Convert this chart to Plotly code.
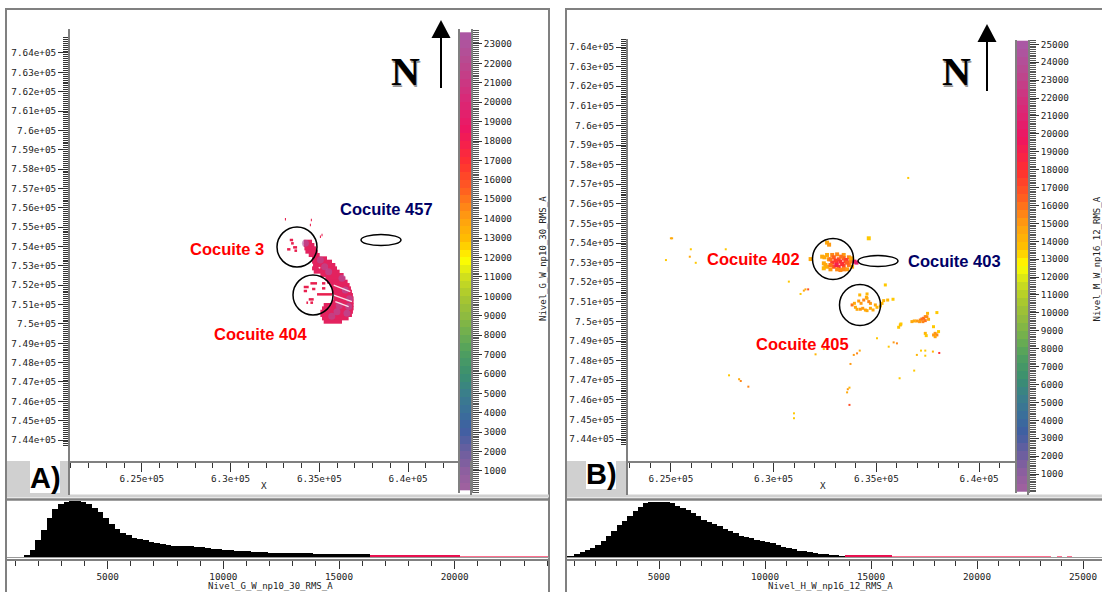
import plotly.graph_objects as go

W, H = 1102, 592
TICK_FONT = dict(family="DejaVu Sans Mono", size=9.3, color="#222222")
GREY = "#808080"

# ---------- tick labels ----------
north_ticks = [744000 + 1000 * i for i in range(21)]
north_labels = ["7.44e+05", "7.45e+05", "7.46e+05", "7.47e+05", "7.48e+05", "7.49e+05", "7.5e+05",
                "7.51e+05", "7.52e+05", "7.53e+05", "7.54e+05", "7.55e+05", "7.56e+05", "7.57e+05",
                "7.58e+05", "7.59e+05", "7.6e+05", "7.61e+05", "7.62e+05", "7.63e+05", "7.64e+05"]
east_ticks = [625000, 630000, 635000, 640000]
east_labels = ["6.25e+05", "6.3e+05", "6.35e+05", "6.4e+05"]

# ---------- panel A map: RMS body as row spans (north, west, east) ----------
a_row_north = [754249, 754077, 753905, 753733, 753560, 753388, 753216, 753043, 752871, 752699, 752526,
               752354, 752182, 752009, 751837, 751665, 751492, 751320, 751148, 750976, 750803, 750631,
               750459, 750286, 750114]
a_row_west = [634120, 634120, 634157, 634214, 634401, 634588, 634588, 634644, 634588, 634682, 635057,
              635337, 635431, 635618, 635712, 635712, 635806, 635806, 635712, 635244, 635150, 635057,
              635057, 635150, 635244]
a_row_east = [634588, 634719, 634832, 634907, 635019, 635431, 635712, 635899, 635993, 636143, 636368,
              636461, 636592, 636705, 636780, 636836, 636892, 636930, 636930, 636930, 636930, 636892,
              636836, 636649, 636274]
# small isolated patches
a_dash_north = [752096, 751906, 751803, 752096, 751700, 751837, 751527, 751268, 751096, 751096,
                754336, 754163, 753853, 753956, 753784, 755404, 755369, 755111, 754594, 754508]
a_dash_west = [634495, 634120, 634590, 635150, 634120, 635150, 634869, 634401, 634495, 634270,
               633333, 633408, 633184, 633521, 633596, 633060, 634520, 634465, 635120, 635030]
a_dash_east = [634870, 634400, 634775, 635337, 634307, 635337, 635712, 634682, 634644, 634364,
               633521, 633558, 633371, 633745, 633745, 633120, 634580, 634525, 635180, 635090]
# higher RMS patches inside the body
a_high_east = [634214, 635057, 635525, 636274, 636461, 636555, 635993, 636120, 636700, 635300, 636650, 635700]
a_high_north = [754163, 753302, 752699, 752354, 751751, 750545, 750631, 750950, 751300, 752950, 750900, 750400]
a_high_rms = [23500, 23000, 23500, 23500, 23700, 23700, 23500, 23000, 23500, 23000, 23500, 23000]
# no-data stripes across the body
a_gap_east = [[635806, 636742], [635806, 636836], [635899, 636649], [634963, 635050]]
a_gap_north = [[752009, 751665], [751492, 751148], [751148, 750890], [752922, 752880]]

# ---------- panel B map ----------
b402_east = [632600, 632850, 633090, 633410, 632475, 632690, 632930, 633170, 633410, 633660, 632850,
             633060, 633250, 633490, 633740, 632930, 633170, 633410, 633660, 633250, 633580, 632520,
             632440, 632600, 633930, 634030, 631800, 632600, 632700, 634630,
             632766, 633009, 633284, 633543, 632766, 633058, 633333, 633575, 633090, 633413, 633769,
             632361, 632766, 633818, 632443]
b402_north = [753390, 753390, 753420, 753390, 753270, 753170, 753270, 753170, 753220, 753270, 753000,
              753000, 753050, 753050, 753050, 752790, 752790, 752830, 752880, 752620, 752660, 752880,
              752710, 752790, 753050, 753000, 753180, 754020, 753915, 754240,
              753167, 753099, 753303, 753133, 752878, 752878, 752929, 752997, 752657, 752657, 753218,
              753303, 752657, 752793, 752963]
b402_rms = [14500, 15500, 15500, 15000, 14500, 15000, 16500, 17000, 16500, 15500, 17500,
            18500, 18000, 17000, 15500, 17000, 18000, 17000, 16000, 15500, 15000, 14500,
            14000, 14500, 20000, 20500, 14500, 14500, 15000, 13500,
            16000, 17500, 16000, 17500, 16000, 19000, 18000, 16500, 15500, 15500, 14500,
            14500, 15000, 14500, 14500]

b405_east = [633820, 634140, 634385, 634545, 634190, 634545, 634710, 634950, 634220, 634465, 634710,
             635030, 633980, 634630, 635355, 635550, 635810, 635275, 635435,
             634061, 634336, 634546, 634837, 635193, 633931, 634255, 634514]
b405_north = [750840, 751040, 751090, 751180, 751350, 751400, 750920, 750840, 750620, 750580, 750670,
              750720, 750720, 751010, 751060, 751090, 751130, 750920, 751860,
              750617, 750668, 750549, 750583, 750787, 750923, 750923, 751229]
b405_rms = [16000, 15000, 15500, 14500, 14000, 14000, 15000, 14500, 15000, 14500, 14500,
            14000, 14500, 15500, 14000, 14000, 13500, 14000, 13500,
            14500, 15000, 14500, 14500, 14000, 14500, 15000, 14500]

b_east_cluster_east = [637135, 637300, 637460, 637380, 636730, 636970, 637490, 636165, 636085, 637860,
                       637945, 637380, 637780, 638025, 637860, 637945,
                       637216, 637378, 637264, 636844, 637539, 637102, 636196, 637426, 637782]
b_east_cluster_north = [750070, 750160, 750240, 750040, 749990, 750020, 750410, 749820, 749700, 749390,
                        749310, 749390, 749730, 749480, 749220, 750450,
                        750124, 750243, 749988, 750022, 750107, 749988, 749869, 749274, 749308]
b_east_cluster_rms = [15500, 16500, 15500, 16000, 14500, 15000, 14000, 14000, 13500, 15000,
                      15500, 14000, 13500, 13500, 14500, 13500,
                      16000, 15500, 15500, 14500, 14500, 15000, 13500, 13500, 15000]

b_other_east = [625000, 625060, 625970, 625920, 624760, 626210, 627670, 630740, 631550, 631680, 631470,
                631310, 635030, 635840, 636000, 635600, 634060, 633900, 634190, 633740, 632440, 632040,
                636970, 637170, 637380, 637750, 637380, 638060, 628400, 628320, 628770, 627830, 633610,
                633575, 633690, 633690, 630990, 630990, 636840, 636130, 636550]
b_other_north = [754240, 754240, 753680, 753300, 753130, 752990, 753680, 752030, 751635, 751635, 751570,
                 751400, 749140, 748930, 748880, 748710, 748370, 748290, 748510, 747830, 748590, 748320,
                 748290, 748510, 748510, 748460, 748250, 748390, 746960, 747050, 746670, 747250, 746540,
                 746380, 746620, 745740, 745310, 745060, 747490, 747100, 757320]
b_other_rms = [14500, 14500, 13500, 14500, 13500, 13500, 13500, 13500, 14500, 17000, 14500,
               13500, 13500, 15000, 15500, 13500, 15500, 15000, 14500, 15000, 14000, 14000,
               14000, 13500, 13500, 14000, 13500, 18000, 15500, 14500, 15500, 13500, 15000,
               14500, 14000, 17000, 13500, 13500, 13500, 13500, 13500]

# ---------- histograms ----------
hist_a_bin0, hist_a_width = 1504, 245
hist_a_main = [5, 20, 50, 82, 117, 143, 160, 166, 169, 167, 164, 158, 147, 135, 117, 100, 83, 73, 65, 57,
               54, 50, 46, 42, 40, 37, 34, 34, 34, 33, 30, 29, 27, 25, 23, 22, 20, 18, 17, 17, 16, 15, 14,
               13, 12, 12, 12, 12, 11, 11, 11, 9, 9, 9, 9, 9, 9, 9, 9, 9, 9]
hist_a_tail_high = [6] * 16
hist_a_tail_low = [3] * 16

hist_b_bin0, hist_b_width = 625, 250
hist_b_main = [3, 3, 10, 15, 21, 27, 36, 49, 64, 79, 95, 107, 124, 139, 151, 161, 166, 166, 166, 164, 162,
               154, 147, 141, 131, 124, 111, 104, 100, 92, 85, 77, 71, 63, 61, 56, 50, 47, 44, 41, 36, 29,
               26, 23, 19, 17, 15, 13, 10, 8, 6, 5, 3]
hist_b_tail_high = [6] * 9
hist_b_tail_low = [3, 3, 3, 3, 3, 3, 3, 3, 3, 3, 3, 3, 3, 3, 3, 3, 3, 3, 3, 3, 3, 3, 3, 3, 3, 3, 3, 3, 3, 3,
                   0, 3, 0, 3, 0, 0, 0, 0, 0, 0, 0, 3]

# ---------- colour ramps ----------
ramp_a_max, ramp_b_max = 23770, 25240
ramp_a_levels = list(range(200, 23800, 400))
ramp_b_levels = list(range(225, 25300, 450))
ramp_a_ticks = list(range(1000, 24000, 1000))
ramp_b_ticks = list(range(1000, 26000, 1000))
COLORSCALE = [[0, "#a2619f"], [.04, "#8f5f9f"], [.085, "#6a5f9f"], [.13, "#3f5fa2"], [.17, "#3a6f9a"],
              [.21, "#3a7f8a"], [.25, "#3a8f70"], [.30, "#4f9f5f"], [.34, "#6faf4f"], [.38, "#8fba3f"],
              [.42, "#aac82f"], [.46, "#ccdd1f"], [.50, "#ffff00"], [.54, "#ffc000"], [.59, "#ff9f10"],
              [.65, "#ff6020"], [.71, "#ff3030"], [.78, "#ee1560"], [.85, "#d82a78"], [.93, "#b84a90"],
              [1, "#a85aa8"]]


def px(x):
    return x / W


def py(y):
    return 1 - y / H


def spans(north, west, east):
    xs, ys = [], []
    for n, w, e in zip(north, west, east):
        xs += [w, e, None]
        ys += [n, n, None]
    return xs, ys


fig = go.Figure()

# panel A map
x, y = spans(a_row_north, a_row_west, a_row_east)
fig.add_trace(go.Scatter(x=x, y=y, mode="lines", line=dict(color="#e3225f", width=4), xaxis="x", yaxis="y"))
x, y = spans(a_dash_north, a_dash_west, a_dash_east)
fig.add_trace(go.Scatter(x=x, y=y, mode="lines", line=dict(color="#e8204f", width=2.5), xaxis="x", yaxis="y"))
fig.add_trace(go.Scatter(x=a_high_east, y=a_high_north, mode="markers", xaxis="x", yaxis="y",
                         marker=dict(size=7, color=a_high_rms, cmin=0, cmax=ramp_a_max, colorscale=COLORSCALE,
                                     opacity=0.55)))
for ge, gn in zip(a_gap_east, a_gap_north):
    fig.add_trace(go.Scatter(x=ge, y=gn, mode="lines", line=dict(color="rgba(255,255,255,0.85)", width=1.3),
                             xaxis="x", yaxis="y"))

# panel B map
for e, n, v, s in [(b402_east, b402_north, b402_rms, 4), (b405_east, b405_north, b405_rms, 3),
                   (b_east_cluster_east, b_east_cluster_north, b_east_cluster_rms, 3),
                   (b_other_east, b_other_north, b_other_rms, 2)]:
    fig.add_trace(go.Scatter(x=e, y=n, mode="markers", xaxis="x2", yaxis="y2",
                             marker=dict(size=s, symbol="square", color=v, cmin=0, cmax=ramp_b_max,
                                         colorscale=COLORSCALE, line=dict(width=0))))

# histograms
off = 0
for vals, col in [(hist_a_main, "#000000"), (hist_a_tail_high, "#e8104f"), (hist_a_tail_low, "#ff6f8f")]:
    fig.add_trace(go.Bar(x=[hist_a_bin0 + (off + i) * hist_a_width for i in range(len(vals))], y=vals,
                         width=hist_a_width, marker=dict(color=col, line=dict(width=0)), xaxis="x3", yaxis="y3"))
    off += len(vals)
off = 0
for vals, col in [(hist_b_main, "#000000"), (hist_b_tail_high, "#e8104f"), (hist_b_tail_low, "#ff6f8f")]:
    fig.add_trace(go.Bar(x=[hist_b_bin0 + (off + i) * hist_b_width for i in range(len(vals))], y=vals,
                         width=hist_b_width, marker=dict(color=col, line=dict(width=0)), xaxis="x4", yaxis="y4"))
    off += len(vals)

# colour ramps
fig.add_trace(go.Heatmap(z=[[v] for v in ramp_a_levels], x=[0], y=ramp_a_levels, zmin=0, zmax=ramp_a_max,
                         colorscale=COLORSCALE, showscale=False, xaxis="x5", yaxis="y5"))
fig.add_trace(go.Heatmap(z=[[v] for v in ramp_b_levels], x=[0], y=ramp_b_levels, zmin=0, zmax=ramp_b_max,
                         colorscale=COLORSCALE, showscale=False, xaxis="x6", yaxis="y6"))


def north_axis(x_name, domain, rng):
    return dict(anchor=x_name, domain=domain, range=rng, tickmode="array", tickvals=north_ticks,
                ticktext=north_labels, ticks="outside", ticklen=10, tickwidth=1, tickcolor="#333333",
                tickfont=TICK_FONT, showline=True, linecolor=GREY, linewidth=2, showgrid=False, zeroline=False,
                minor=dict(tickvals=[743700 + 100 * i for i in range(212)], ticks="outside", ticklen=5,
                           tickwidth=1, tickcolor="#333333", showgrid=False))


def east_axis(y_name, domain, rng):
    return dict(anchor=y_name, domain=domain, range=rng, tickmode="array", tickvals=east_ticks,
                ticktext=east_labels, ticks="outside", ticklen=9, tickwidth=1, tickcolor="#333333",
                tickfont=TICK_FONT, showline=True, linecolor=GREY, linewidth=2, showgrid=False, zeroline=False,
                ticklabelstandoff=-1,
                minor=dict(dtick=1000, ticks="outside", ticklen=5, tickwidth=1, tickcolor="#333333",
                           showgrid=False))


def hist_x(domain, rng, pos):
    return dict(domain=domain, range=rng, anchor="free", position=pos, tickmode="array",
                tickvals=list(range(5000, 30000, 5000)), ticktext=[str(v) for v in range(5000, 30000, 5000)],
                ticks="outside", ticklen=8, tickwidth=1, tickcolor="#333333", tickfont=TICK_FONT, showline=True,
                linecolor=GREY, linewidth=2, showgrid=False, zeroline=False, ticklabelstandoff=0,
                minor=dict(dtick=1000, ticks="outside", ticklen=5, tickwidth=1, tickcolor="#333333",
                           showgrid=False))


def ramp_y(x_name, domain, rng, vals):
    return dict(anchor=x_name, domain=domain, range=rng, side="right", tickmode="array", tickvals=vals,
                ticktext=[str(v) for v in vals], ticks="outside", ticklen=9, tickwidth=1, tickcolor="#333333",
                tickfont=TICK_FONT, showline=True, linecolor=GREY, linewidth=2, showgrid=False, zeroline=False,
                minor=dict(dtick=100, ticks="outside", ticklen=6, tickwidth=1, tickcolor="#555555",
                           showgrid=False))


hidden = dict(visible=False, showgrid=False, zeroline=False)

layout = dict(
    width=W, height=H, margin=dict(l=0, r=0, t=0, b=0), paper_bgcolor="white", plot_bgcolor="white",
    showlegend=False, bargap=0, barmode="overlay",
    xaxis=east_axis("y", [px(70), px(458)], [620955, 642809]),
    yaxis=north_axis("x", [py(461), py(29)], [742915, 765240]),
    xaxis2=east_axis("y2", [px(628), px(1015)], [622913, 641746]),
    yaxis2=north_axis("x2", [py(461), py(39)], [742878, 764408]),
    xaxis3=hist_x([px(7), px(549)], [646, 24079], py(560)),
    yaxis3=dict(domain=[py(557), py(500)], range=[0, 171], anchor="x3", **hidden),
    xaxis4=hist_x([px(566), px(1102)], [613, 25896], py(560)),
    yaxis4=dict(domain=[py(557), py(500)], range=[0, 171], anchor="x4", **hidden),
    xaxis5=dict(domain=[px(459), px(471)], range=[-0.5, 0.5], anchor="y5", **hidden),
    yaxis5=ramp_y("x5", [py(493), py(29)], [-134, ramp_a_max], ramp_a_ticks),
    xaxis6=dict(domain=[px(1016), px(1028)], range=[-0.5, 0.5], anchor="y6", **hidden),
    yaxis6=ramp_y("x6", [py(493), py(40)], [-60, ramp_b_max], ramp_b_ticks),
)


def rect(x0, y0, x1, y1, fill, line=None, width=0):
    return dict(type="rect", xref="paper", yref="paper", x0=px(x0), x1=px(x1), y0=py(y0), y1=py(y1),
                fillcolor=fill, line=dict(color=line or fill, width=width))


def seg(x0, y0, x1, y1, color=GREY, width=2):
    return dict(type="line", xref="paper", yref="paper", x0=px(x0), x1=px(x1), y0=py(y0), y1=py(y1),
                line=dict(color=color, width=width))


def oval(cx, cy, rx, ry):
    return dict(type="circle", xref="paper", yref="paper", x0=px(cx - rx), x1=px(cx + rx), y0=py(cy - ry),
                y1=py(cy + ry), line=dict(color="black", width=1.5), fillcolor="rgba(0,0,0,0)")


def arrow_head(x, tip, base):
    return dict(type="path", xref="paper", yref="paper",
                path=f"M {px(x)} {py(tip)} L {px(x - 9.5)} {py(base)} L {px(x + 9.5)} {py(base)} Z",
                fillcolor="black", line=dict(color="black", width=0))


shapes = [
    rect(7, 461, 68, 495, "#d0d0d0"), rect(566, 461, 626, 495, "#d0d0d0"),
    rect(30, 461, 60, 493, "white"), rect(586, 461, 616, 489, "white"),
    seg(6, 8, 6, 592), seg(549, 8, 549, 592), seg(566, 8, 566, 592),
    seg(5, 9, 550, 9), seg(565, 9, 1102, 9),
    seg(7, 496, 549, 496, "#d0d0d0", 3), seg(567, 496, 1102, 496, "#d0d0d0", 3),
    seg(7, 499.5, 549, 499.5, GREY, 2.5), seg(567, 499.5, 1102, 499.5, GREY, 2.5),
    seg(7, 557.5, 549, 557.5, "#9a9a9a", 1), seg(567, 557.5, 1102, 557.5, "#9a9a9a", 1),
    seg(69, 461, 69, 495), seg(627, 461, 627, 495),
    seg(459, 29, 459, 493), seg(1016, 40, 1016, 493),
    seg(471, 461, 471, 495), seg(1028, 461, 1028, 495),
    oval(297, 247, 20, 20), oval(313, 295, 20, 20), oval(381, 240, 20, 5.5),
    oval(833, 259, 20.5, 20.5), oval(860, 305, 20.5, 20.5), oval(878, 261, 20, 5.5),
    seg(441, 36, 441, 88, "black", 2), arrow_head(441, 20, 38),
    seg(987, 40, 987, 91, "black", 2), arrow_head(987, 24, 42),
]


def note(text, x, y, size, color, family="Liberation Sans", bold=True, angle=0):
    return dict(text=f"<b>{text}</b>" if bold else text, xref="paper", yref="paper", x=px(x), y=py(y),
                xanchor="center", yanchor="middle", showarrow=False, textangle=angle,
                font=dict(family=family, size=size, color=color))


annotations = [
    note("Cocuite 3", 227, 249, 16.5, "#ff0000"), note("Cocuite 457", 386, 209, 16.5, "#000066"),
    note("Cocuite 404", 260, 334, 16.5, "#ff0000"), note("Cocuite 402", 753, 259, 16.5, "#ff0000"),
    note("Cocuite 403", 954, 261, 16.5, "#000066"), note("Cocuite 405", 802, 344, 16.5, "#ff0000"),
    note("A)", 45, 478, 29, "#000000"), note("B)", 601, 474, 29, "#000000"),
    note("N", 406.5, 73, 40, "#999999", "Liberation Serif"), note("N", 405.5, 72, 40, "#000000", "Liberation Serif"),
    note("N", 957.5, 73, 40, "#999999", "Liberation Serif"), note("N", 956.5, 72, 40, "#000000", "Liberation Serif"),
    note("X", 264, 485, 9.3, "#222222", "DejaVu Sans Mono", False),
    note("X", 823, 485, 9.3, "#222222", "DejaVu Sans Mono", False),
    note("Nivel_G_W_np10_30_RMS_A", 270, 585.5, 9, "#222222", "DejaVu Sans Mono", False),
    note("Nivel_H_W_np16_12_RMS_A", 830, 585.5, 9, "#222222", "DejaVu Sans Mono", False),
    note("Nivel_G_W_np10_30_RMS_A", 543, 259, 9, "#222222", "DejaVu Sans Mono", False, -90),
    note("Nivel_M_W_np16_12_RMS_A", 1096.5, 259, 9, "#222222", "DejaVu Sans Mono", False, -90),
]

fig.update_layout(shapes=shapes, annotations=annotations, **layout)
fig.write_html("out.html", config=dict(displayModeBar=False),
               post_script="document.body.style.margin='0';document.documentElement.style.overflow='hidden';")
